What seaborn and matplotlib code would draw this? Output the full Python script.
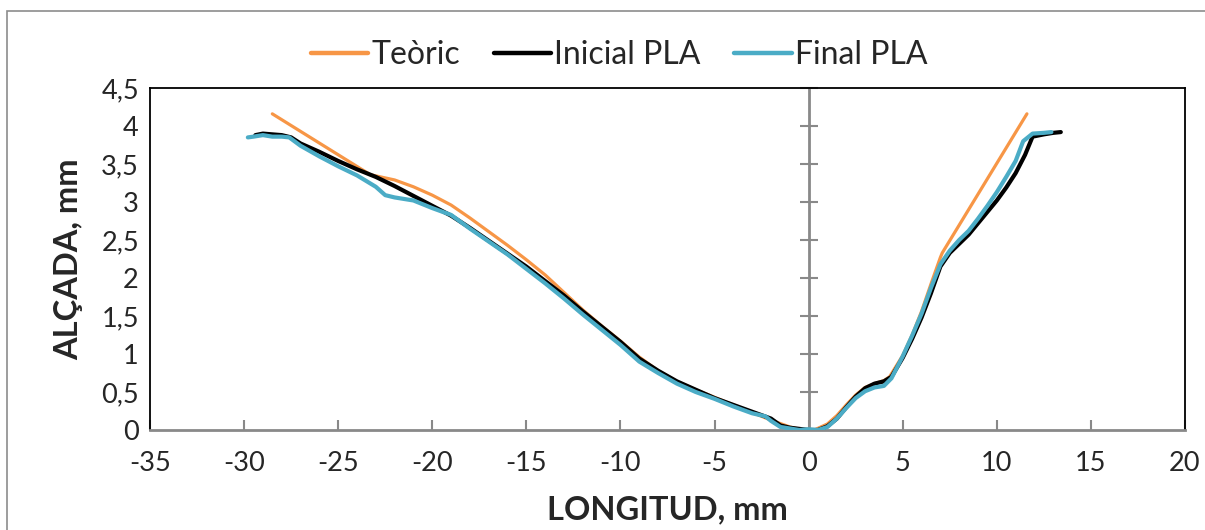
import matplotlib
matplotlib.use("Agg")
import matplotlib.pyplot as plt
from matplotlib.patches import Rectangle
from matplotlib.ticker import FixedLocator, FuncFormatter
import seaborn as sns
import pandas as pd

# Profile data (longitud, alçada) in mm
x_teoric = [-28.5, -23.3, -22.0, -21.0, -20.0, -19.0, -18.0, -17.0, -16.0, -15.0,
            -14.0, -13.0, -12.0, -11.0, -10.0, -9.0, -8.0, -7.0, -6.0, -5.0,
            -4.0, -3.0, -2.0, -1.0, -0.3, 0.3, 1.0, 1.5, 2.0, 2.5,
            3.0, 3.5, 4.0, 4.3, 5.0, 5.5, 6.0, 6.5, 7.0, 7.1, 11.6]
y_teoric = [4.16, 3.36, 3.29, 3.20, 3.09, 2.96, 2.79, 2.61, 2.43, 2.24,
            2.04, 1.81, 1.58, 1.37, 1.17, 0.96, 0.78, 0.64, 0.53, 0.43,
            0.33, 0.23, 0.13, 0.04, 0.00, 0.00, 0.08, 0.19, 0.33, 0.46,
            0.56, 0.61, 0.65, 0.70, 0.98, 1.25, 1.56, 1.92, 2.27, 2.33, 4.16]

x_inicial = [-29.4, -29.0, -28.5, -28.0, -27.5, -27.0, -26.0, -25.0, -24.0, -23.0,
             -22.0, -21.0, -20.0, -19.0, -18.0, -17.0, -16.0, -15.0, -14.0, -13.0,
             -12.0, -11.0, -10.0, -9.0, -8.0, -7.0, -6.0, -5.0, -4.0, -3.0,
             -2.0, -1.5, -1.0, 0.0, 0.5, 1.0, 1.5, 2.0, 2.5, 3.0,
             3.5, 4.0, 4.4, 5.0, 5.5, 6.0, 6.5, 7.0, 7.5, 8.0,
             8.5, 9.0, 9.5, 10.0, 10.5, 11.0, 11.5, 11.9, 12.5, 13.0, 13.4]
y_inicial = [3.88, 3.90, 3.89, 3.88, 3.85, 3.77, 3.66, 3.54, 3.43, 3.33,
             3.21, 3.08, 2.95, 2.82, 2.66, 2.49, 2.32, 2.15, 1.96, 1.77,
             1.56, 1.36, 1.16, 0.94, 0.78, 0.64, 0.53, 0.42, 0.33, 0.24,
             0.15, 0.06, 0.03, 0.00, 0.00, 0.05, 0.15, 0.30, 0.44, 0.55,
             0.61, 0.64, 0.70, 0.95, 1.20, 1.48, 1.80, 2.15, 2.33, 2.45,
             2.57, 2.72, 2.87, 3.02, 3.19, 3.38, 3.62, 3.86, 3.89, 3.91, 3.92]

x_final = [-29.8, -29.5, -29.0, -28.5, -28.0, -27.6, -27.0, -26.0, -25.0, -24.0,
           -23.0, -22.5, -22.0, -21.0, -20.0, -19.0, -18.0, -17.0, -16.0, -15.0,
           -14.0, -13.0, -12.0, -11.0, -10.0, -9.0, -8.0, -7.0, -6.0, -5.0,
           -4.0, -3.0, -2.3, -2.0, -1.5, -1.0, -0.5, 0.0, 0.5, 1.0,
           1.5, 2.0, 2.5, 3.0, 3.5, 4.0, 4.4, 5.0, 5.5, 6.0,
           6.5, 7.0, 7.5, 8.0, 8.5, 9.0, 9.5, 10.0, 10.5, 11.0,
           11.4, 11.9, 12.5, 12.9]
y_final = [3.85, 3.86, 3.88, 3.86, 3.86, 3.85, 3.74, 3.60, 3.47, 3.35,
           3.20, 3.09, 3.06, 3.02, 2.92, 2.83, 2.65, 2.48, 2.31, 2.12,
           1.93, 1.73, 1.52, 1.32, 1.12, 0.90, 0.75, 0.61, 0.50, 0.41,
           0.31, 0.22, 0.18, 0.12, 0.04, 0.02, 0.00, 0.01, 0.00, 0.04,
           0.15, 0.29, 0.42, 0.51, 0.56, 0.58, 0.68, 0.97, 1.24, 1.53,
           1.87, 2.18, 2.36, 2.50, 2.62, 2.78, 2.95, 3.13, 3.33, 3.54,
           3.80, 3.90, 3.91, 3.92]

series_names = ["Teòric", "Inicial PLA", "Final PLA"]
series_colors = ["#F79646", "#000000", "#4BACC6"]
series_widths = [2.3, 3.0, 3.0]

x_ticks = [-35, -30, -25, -20, -15, -10, -5, 0, 5, 10, 15, 20]
y_ticks = [0, 0.5, 1, 1.5, 2, 2.5, 3, 3.5, 4, 4.5]

sns.set_theme(style="white")
plt.rcParams["font.family"] = ["Lato", "DejaVu Sans"]

fig = plt.figure(figsize=(12.05, 5.30), dpi=100)
ax = fig.add_axes([150 / 1205, 100 / 530, 1035 / 1205, 342 / 530])

frames = [
    pd.DataFrame({"x": x_teoric, "y": y_teoric}),
    pd.DataFrame({"x": x_inicial, "y": y_inicial}),
    pd.DataFrame({"x": x_final, "y": y_final}),
]
for df, name, col, lw in zip(frames, series_names, series_colors, series_widths):
    sns.lineplot(data=df, x="x", y="y", sort=False, estimator=None, ax=ax,
                 color=col, linewidth=lw, label=name,
                 solid_capstyle="round", solid_joinstyle="round", zorder=3)

gray = "#898989"
ax.set_xlim(-35, 20)
ax.set_ylim(0, 4.5)
ax.xaxis.set_major_locator(FixedLocator(x_ticks))
ax.yaxis.set_major_locator(FixedLocator(y_ticks))
ax.xaxis.set_major_formatter(FuncFormatter(lambda v, p: f"{v:g}"))
ax.yaxis.set_major_formatter(FuncFormatter(lambda v, p: f"{v:g}".replace(".", ",")))

ax.tick_params(axis="x", direction="in", length=7, width=1.5, color=gray,
               labelsize=19.5, pad=15, bottom=True, top=False)
ax.tick_params(axis="y", length=0, labelsize=19.5, pad=8, left=False)

for side in ["left", "top", "right"]:
    ax.spines[side].set_color("black")
    ax.spines[side].set_linewidth(1.3)
ax.spines["bottom"].set_color(gray)
ax.spines["bottom"].set_linewidth(2)

# Vertical axis through x = 0 with crossing tick marks
ax.axvline(0, color=gray, linewidth=2, zorder=2)
ax.plot([0] * len(y_ticks), y_ticks, linestyle="none", marker="_",
        markersize=13, markeredgewidth=1.5, color=gray, zorder=2, clip_on=False)

ax.set_xlabel("LONGITUD, mm", fontsize=23.5, fontweight="bold", labelpad=14)
ax.set_ylabel("ALÇADA, mm", fontsize=23.5, fontweight="bold", labelpad=13)

leg = ax.legend(loc="center", bbox_to_anchor=(619 / 1205, 1 - 55 / 530),
                bbox_transform=fig.transFigure, ncol=3, frameon=False,
                fontsize=23, handlelength=1.8, handletextpad=0.1,
                columnspacing=1.05)
for line in leg.get_lines():
    line.set_linewidth(3.2)

# Outer chart border
fig.add_artist(Rectangle((7 / 1205, -0.5), 1.2, 1.5 - 11 / 530, transform=fig.transFigure,
                         fill=False, edgecolor="#8C8C8C", linewidth=1.2))

fig.savefig("out.png", dpi=100)
